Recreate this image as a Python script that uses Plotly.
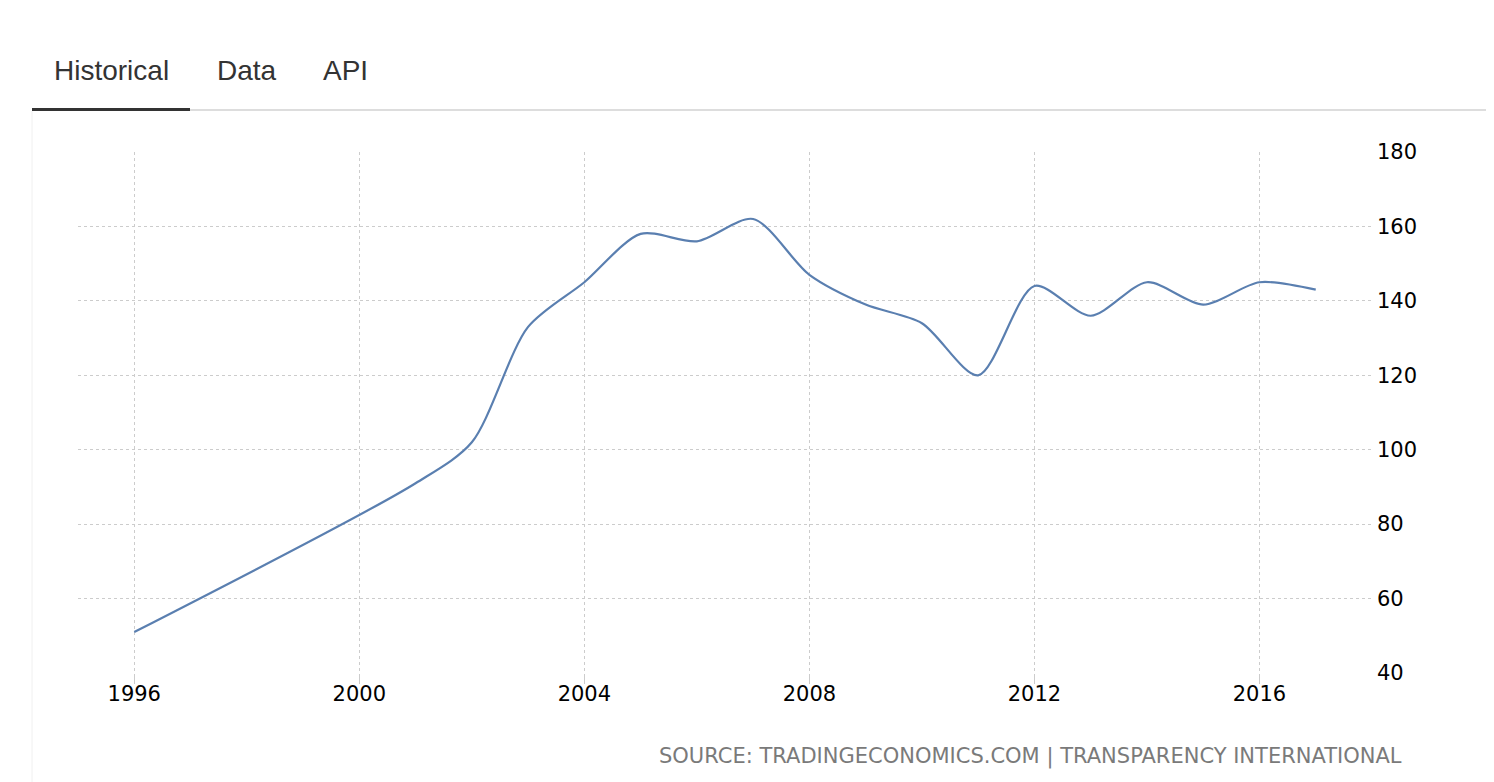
import plotly.graph_objects as go

# Bangladesh corruption rank (Transparency International)
years = [1996, 2001, 2002, 2003, 2004, 2005, 2006, 2007, 2008, 2009,
         2010, 2011, 2012, 2013, 2014, 2015, 2016, 2017]
rank = [51, 91, 102, 133, 145, 158, 156, 162, 147, 139,
        134, 120, 144, 136, 145, 139, 145, 143]

x_ticks = [1996, 2000, 2004, 2008, 2012, 2016]
y_ticks = [40, 60, 80, 100, 120, 140, 160, 180]

tabs = ["Historical", "Data", "API"]
source_text = "SOURCE: TRADINGECONOMICS.COM | TRANSPARENCY INTERNATIONAL"

W, H = 1494, 782
OFF = 8  # page body margin
# plot area in screen pixels
PX0, PX1, PY0, PY1 = 78, 1372, 152, 673

L = PX0 - OFF
T = PY0 - OFF
R = W + OFF - PX1
B = H + OFF - PY1


def px_x(p):
    return (p - PX0) / (PX1 - PX0)


def px_y(p):
    return (PY1 - p) / (PY1 - PY0)


fig = go.Figure()

fig.add_trace(
    go.Scatter(
        x=years,
        y=rank,
        mode="lines",
        line={"color": "#5a7fb0", "width": 2.2, "shape": "spline", "smoothing": 0.8},
        hoverinfo="x+y",
        showlegend=False,
    )
)

shapes = [
    # panel border
    dict(type="line", xref="paper", yref="paper",
         x0=px_x(32), x1=px_x(32), y0=px_y(111), y1=px_y(790),
         line={"color": "#f0f0f0", "width": 1}),
    # tab baseline
    dict(type="line", xref="paper", yref="paper",
         x0=px_x(190), x1=px_x(1500), y0=px_y(110), y1=px_y(110),
         line={"color": "#dddddd", "width": 2}),
    # active tab underline
    dict(type="line", xref="paper", yref="paper",
         x0=px_x(32), x1=px_x(190), y0=px_y(109.5), y1=px_y(109.5),
         line={"color": "#333333", "width": 3}),
]

annotations = []
tab_x = [52, 215, 321]
for name, xp in zip(tabs, tab_x):
    annotations.append(
        dict(text=name, xref="paper", yref="paper", x=px_x(xp), y=px_y(70),
             xanchor="left", yanchor="middle", showarrow=False,
             font={"family": "Liberation Sans, Arial", "size": 28, "color": "#333333"})
    )

annotations.append(
    dict(text=source_text, xref="paper", yref="paper", x=px_x(1404), y=px_y(756),
         xanchor="right", yanchor="middle", showarrow=False,
         font={"family": "DejaVu Sans", "size": 21, "color": "#7a7a7a"})
)

fig.update_layout(
    width=W,
    height=H,
    margin={"l": L, "r": R, "t": T, "b": B, "pad": 0},
    paper_bgcolor="white",
    plot_bgcolor="white",
    shapes=shapes,
    annotations=annotations,
    font={"family": "DejaVu Sans", "size": 21, "color": "#000000"},
)

fig.update_xaxes(
    range=[1995.0, 2018.0],
    tickvals=x_ticks,
    ticktext=[str(v) for v in x_ticks],
    showgrid=True,
    gridcolor="#cccccc",
    griddash="dot",
    gridwidth=1,
    ticks="outside",
    ticklen=10,
    tickcolor="#cccccc",
    ticklabelstandoff=-8,
    showline=False,
    zeroline=False,
    tickfont={"family": "DejaVu Sans", "size": 21, "color": "#000000"},
)

fig.update_yaxes(
    range=[40, 180],
    tickvals=y_ticks,
    side="right",
    showgrid=True,
    gridcolor="#cccccc",
    griddash="dot",
    gridwidth=1,
    zeroline=False,
    showline=False,
    ticks="",
    ticklabelstandoff=4,
    tickfont={"family": "DejaVu Sans", "size": 21, "color": "#000000"},
)

fig.write_html("out.html")
